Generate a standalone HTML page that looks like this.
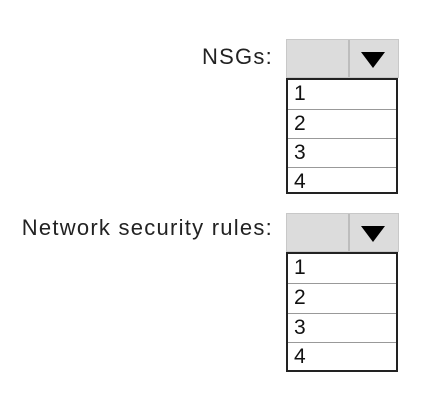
<!DOCTYPE html>
<html><head><style>
body{margin:0;width:440px;height:403px;background:#fff;position:relative;font-family:"Liberation Sans",sans-serif;color:#222;overflow:hidden}
.lbl{position:absolute;right:167px;font-size:22px;line-height:22px;letter-spacing:1.25px;white-space:nowrap}
.box{position:absolute;left:286px;width:113px;height:39px;background:#dcdcdc;border:1px solid #c8c8c8;box-sizing:border-box}
.sep{position:absolute;left:61px;top:0;width:2px;height:100%;background:#bdbdbd}
.tri{position:absolute;left:74px;top:12px;width:0;height:0;border-left:12px solid transparent;border-right:12px solid transparent;border-top:16px solid #000}
.list{position:absolute;left:286px;width:112px;border:2px solid #222;box-sizing:border-box}
.list div{height:29px;border-top:1px solid #999;box-sizing:border-box;font-size:21px;line-height:28px;padding-left:6px;color:#111}
.list div:first-child{border-top:none}
</style></head><body>
<div class="lbl" style="top:46px">NSGs:</div>
<div class="box" style="top:39px"><div class="sep"></div><div class="tri"></div></div>
<div class="list" style="top:78px;height:116px"><div>1</div><div>2</div><div>3</div><div>4</div></div>
<div class="lbl" style="top:217px">Network security rules:</div>
<div class="box" style="top:213px"><div class="sep"></div><div class="tri"></div></div>
<div class="list" style="top:252px;height:120px"><div>1</div><div style="height:30px">2</div><div>3</div><div>4</div></div>
</body></html>
